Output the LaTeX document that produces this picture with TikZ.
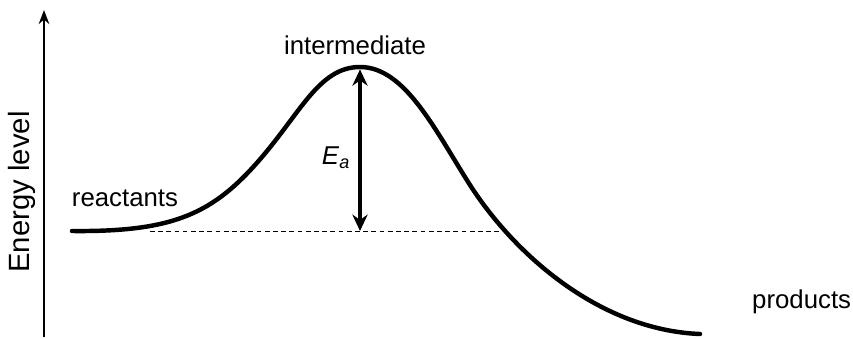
\documentclass[tikz,border=0pt]{standalone}
\usepackage{fontspec}
\setmainfont{Liberation Sans}
\usetikzlibrary{arrows.meta,positioning}

\begin{document}
\begin{tikzpicture}[x=0.03cm, y=-0.03cm,
  every node/.style={font=\fontsize{22}{26}\selectfont, inner sep=0pt},
  curve/.style={line width=3.8pt, line cap=round},
  axis/.style={line width=2pt, -{Stealth[length=12pt, width=9pt]}},
  barrier/.style={line width=2.6pt, {Stealth[length=14pt, width=13pt]}-{Stealth[length=14pt, width=13pt]}}]
\useasboundingbox (0,0) rectangle (853,338);
% Axis
\coordinate (origin) at (44,337);
\coordinate (top) at (44,10);
\draw[axis] (origin) -- (top);
\node[rotate=90] (energy) at (22,192) {\fontsize{25}{30}\selectfont Energy level};
% Reaction path
\coordinate (start) at (72,231);
\coordinate (peak) at (360,67);
\coordinate (finish) at (700,334);
\draw[curve] (start) .. controls (170,232) and (210,215) .. (255,165)
  .. controls (300,115) and (318,67) .. (peak)
  .. controls (405,67) and (435,130) .. (470,185)
  .. controls (515,255) and (600,330) .. (finish);
% Reactant level
\coordinate (left) at (150,231);
\coordinate (right) at (502,231);
\coordinate (base) at (360,231);
\draw[dashed, line width=0.8pt, dash pattern=on 4pt off 3pt] (left) -- (right);
\draw[barrier] (base) -- ([yshift=-2pt]peak);
% Labels
\node (inter) at (355,45) {intermediate};
\node (ea) at (336,158) {\textit{E}\textsubscript{\textit{a}}};
\node (react) at (125,198) {reactants};
\node[anchor=base west] (prod) at (752,308) {products};
\end{tikzpicture}
\end{document}
